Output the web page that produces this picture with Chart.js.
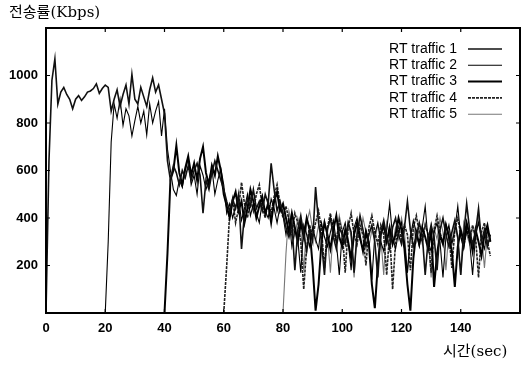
<!DOCTYPE html>
<html>
<head>
<meta charset="utf-8">
<script src="https://cdn.jsdelivr.net/npm/chart.js@4.4.1/dist/chart.umd.min.js"></script>
<style>
  html, body { margin: 0; padding: 0; background: #fff; overflow: hidden; }
  #wrap { position: relative; width: 528px; height: 366px; }
</style>
</head>
<body>
<div id="wrap"><canvas id="rateChart"></canvas></div>
<script>
// RT traffic rate (Kbps), one sample per second from each flow's start time
var seriesNames = ['RT traffic 1', 'RT traffic 2', 'RT traffic 3', 'RT traffic 4', 'RT traffic 5'];
var startTimes = [0, 20, 40, 60, 80];

var traffic1 = [
  0, 640, 980, 1070, 880, 930, 950, 920, 900, 860,
  900, 915, 895, 910, 930, 935, 945, 965, 925, 945,
  960, 950, 850, 900, 940, 870, 920, 960, 880, 1005,
  900, 880, 950, 910, 870, 940, 990, 930, 960, 900,
  840, 640, 560, 620, 590, 540, 600, 570, 620, 560,
  600, 630, 580, 420, 560, 520, 590, 640, 600, 560,
  520, 470, 430, 480, 440, 500, 270, 420, 480, 450,
  520, 440, 470, 430, 500, 460, 630, 520, 430, 470,
  420, 360, 320, 380, 180, 350, 410, 330, 260, 350,
  300, 530, 380, 300, 160, 350, 400, 320, 270, 360,
  330, 290, 380, 340, 170, 330, 410, 350, 280, 330,
  370, 300, 150, 340, 390, 320, 270, 360, 400, 330,
  290, 360, 470, 350, 280, 320, 380, 330, 160, 310,
  370, 320, 180, 350, 400, 330, 280, 340, 390, 320,
  160, 330, 460, 350, 290, 340, 440, 300, 350, 280,
  330
];
var traffic2 = [
  0, 300, 720, 880, 820, 900, 790, 860, 830, 745,
  810, 870, 800, 850, 750, 880, 800, 850, 890, 745,
  860, 690, 600, 520, 495, 560, 530, 600, 650, 540,
  580, 500, 620, 580, 520, 560, 610, 500, 560, 610,
  540, 420, 460, 400, 450, 480, 390, 440, 500, 410,
  460, 420, 380, 470, 430, 400, 480, 440, 380, 450,
  410, 330, 400, 280, 350, 310, 170, 370, 330, 280,
  360, 310, 270, 380, 320, 280, 340, 390, 300, 160,
  340, 380, 300, 180, 360, 400, 310, 270, 350, 300,
  140, 330, 380, 300, 260, 350, 460, 320, 270, 340,
  380, 300, 170, 320, 390, 340, 280, 360, 450, 300,
  260, 340, 380, 300, 150, 320, 370, 290, 350, 450,
  320, 270, 350, 300, 160, 330, 380, 310, 270, 350,
  300
];
var traffic3 = [
  0, 250, 560, 600, 705, 590, 540, 610, 660, 580,
  630, 560, 650, 700, 590, 540, 620, 580, 660, 600,
  500, 450, 400, 470, 510, 430, 470, 380, 440, 520,
  470, 400, 450, 490, 420, 460, 380, 470, 510, 430,
  460, 400, 340, 420, 360, 300, 380, 320, 400, 350,
  200, 10, 120, 300, 380, 330, 270, 350, 410, 320,
  280, 350, 300, 230, 330, 380, 320, 260, 340, 290,
  120, 20, 200, 330, 370, 300, 360, 290, 330, 400,
  350, 270, 120, 10, 230, 340, 290, 360, 320, 270,
  350, 110, 250, 330, 290, 370, 320, 260, 110, 280,
  350, 300, 380, 330, 260, 350, 300, 240, 330, 370,
  300
];
var traffic4 = [
  0, 200, 420, 480, 380, 440, 550, 460, 400, 480,
  430, 500, 540, 450, 400, 470, 420, 490, 540, 460,
  400, 450, 390, 330, 420, 380, 300, 100, 280, 370,
  320, 380, 430, 350, 190, 360, 420, 340, 300, 390,
  340, 170, 360, 420, 330, 290, 370, 330, 200, 360,
  410, 340, 290, 370, 330, 160, 340, 100, 300, 360,
  310, 370, 330, 180, 360, 410, 340, 300, 370, 330,
  170, 350, 410, 340, 290, 370, 330, 190, 350, 400,
  330, 280, 360, 310, 370, 320, 150, 340, 380, 300,
  240
];
var traffic5 = [
  0, 250, 430, 380, 320, 400, 350, 180, 380, 430,
  350, 300, 370, 320, 390, 330, 170, 360, 300, 410,
  350, 290, 380, 320, 150, 350, 310, 400, 340, 280,
  350, 310, 370, 320, 160, 380, 330, 290, 360, 310,
  400, 340, 170, 330, 370, 300, 350, 290, 380, 330,
  150, 360, 310, 400, 340, 180, 350, 300, 370, 310,
  160, 380, 330, 290, 360, 310, 400, 330, 190, 340,
  310
];
var seriesValues = [traffic1, traffic2, traffic3, traffic4, traffic5];

var lineColors = ['#111', '#000', '#000', '#222', '#777'];
var lineWidths = [1.6, 1.1, 2, 1.6, 1.1];
var lineDashes = [[], [], [], [3, 1], []];

function toPoints(values, start) {
  return values.map(function (v, i) { return { x: start + i, y: v }; });
}

var datasets = seriesNames.map(function (name, i) {
  return {
    label: name,
    data: toPoints(seriesValues[i], startTimes[i]),
    borderColor: lineColors[i],
    borderWidth: lineWidths[i],
    borderDash: lineDashes[i],
    pointRadius: 0,
    tension: 0,
    fill: false
  };
});

var frameAndText = {
  id: 'frameAndText',
  afterDatasetsDraw: function (chart) {
    var ctx = chart.ctx, a = chart.chartArea;
    var xs = chart.scales.x, ys = chart.scales.y;
    ctx.save();
    ctx.strokeStyle = '#000';
    ctx.lineWidth = 2;
    ctx.strokeRect(a.left, a.top, a.right - a.left, a.bottom - a.top);

    // small inward ticks on all four sides
    ctx.lineWidth = 1.2;
    ctx.beginPath();
    xs.ticks.forEach(function (t) {
      var px = xs.getPixelForValue(t.value);
      ctx.moveTo(px, a.bottom); ctx.lineTo(px, a.bottom - 4);
      ctx.moveTo(px, a.top); ctx.lineTo(px, a.top + 4);
    });
    ys.ticks.forEach(function (t) {
      var py = ys.getPixelForValue(t.value);
      ctx.moveTo(a.left, py); ctx.lineTo(a.left + 4, py);
      ctx.moveTo(a.right, py); ctx.lineTo(a.right - 4, py);
    });
    ctx.stroke();

    // legend, text right aligned with line sample after it
    ctx.font = '14px "Liberation Sans", Arial, sans-serif';
    ctx.textAlign = 'right';
    ctx.textBaseline = 'middle';
    chart.data.datasets.forEach(function (ds, i) {
      var y = 49 + i * 16.3;
      ctx.fillStyle = '#000';
      ctx.fillText(ds.label, 457, y);
      ctx.strokeStyle = ds.borderColor;
      ctx.lineWidth = ds.borderWidth;
      ctx.setLineDash(ds.borderDash || []);
      ctx.beginPath();
      ctx.moveTo(468, y); ctx.lineTo(502, y);
      ctx.stroke();
      ctx.setLineDash([]);
    });

    // axis titles
    ctx.fillStyle = '#000';
    ctx.font = '15px "DejaVu Serif", "Noto Sans CJK KR", serif';
    ctx.textAlign = 'left';
    ctx.fillText('전송률(Kbps)', 9, 13);
    ctx.fillText('시간(sec)', 443, 352);
    ctx.restore();
  }
};

new Chart(document.getElementById('rateChart'), {
  type: 'line',
  data: { datasets: datasets },
  options: {
    responsive: true,
    maintainAspectRatio: false,
    animation: false,
    layout: { padding: { top: 28, right: 4, left: 0, bottom: 0 } },
    plugins: { legend: { display: false }, tooltip: { enabled: false } },
    scales: {
      x: {
        type: 'linear', min: 0, max: 160,
        grid: { display: false, drawTicks: false },
        border: { display: false },
        ticks: {
          stepSize: 20, padding: 8, color: '#000',
          font: { family: '"Liberation Sans", Arial, sans-serif', size: 13, weight: 'bold' },
          callback: function (v) { return v >= 160 ? '' : v; }
        },
        afterFit: function (s) { s.height = 53; }
      },
      y: {
        min: 0, max: 1200,
        grid: { display: false, drawTicks: false },
        border: { display: false },
        ticks: {
          stepSize: 200, padding: 8, color: '#000',
          font: { family: '"Liberation Sans", Arial, sans-serif', size: 13, weight: 'bold' },
          callback: function (v) { return (v === 0 || v === 1200) ? '' : v; }
        },
        afterFit: function (s) { s.width = 46; }
      }
    }
  },
  plugins: [frameAndText]
});
</script>
</body>
</html>
